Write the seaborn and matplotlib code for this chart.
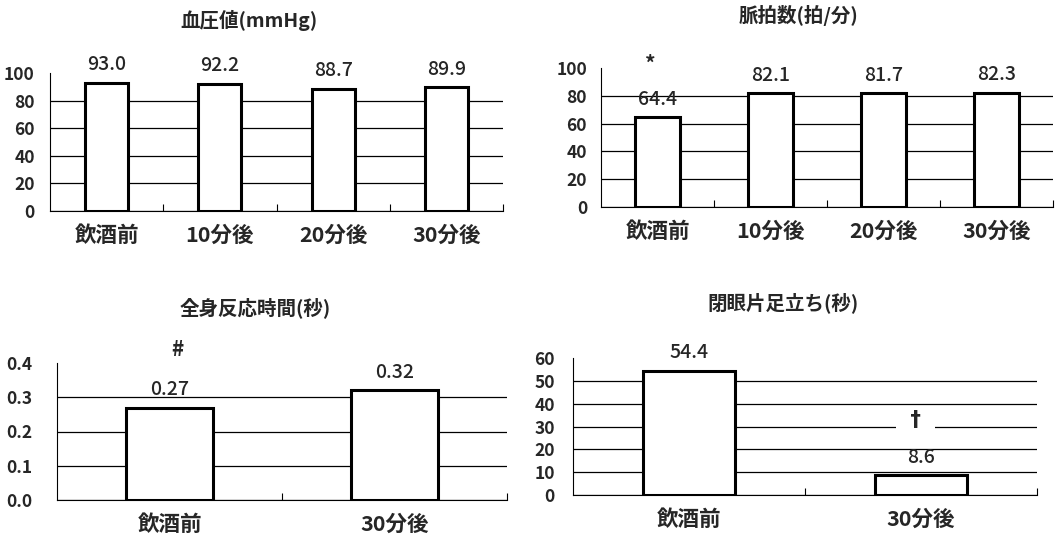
import numpy as np
import matplotlib
matplotlib.use("Agg")
import matplotlib.pyplot as plt
import seaborn as sb
from matplotlib.ticker import FixedLocator

# ---- données ----
cats_4 = ["飲酒前", "10分後", "20分後", "30分後"]
cats_2 = ["飲酒前", "30分後"]

pression = [93.0, 92.2, 88.7, 89.9]
pouls = [64.4, 82.1, 81.7, 82.3]
reaction = [0.27, 0.32]
equilibre = [54.4, 8.6]

titres = ["血圧値(mmHg)", "脈拍数(拍/分)", "全身反応時間(秒)", "閉眼片足立ち(秒)"]
fmt = ["{:.1f}", "{:.1f}", "{:.2f}", "{:.1f}"]

sb.set_theme(style="white")
plt.rcParams['font.family'] = ['Noto Sans CJK JP', 'DejaVu Sans']

fig = plt.figure(figsize=(10.55, 5.37), dpi=100)

W, H = 1055, 537


def axe_px(x0, x1, ytop, ybot):
    return fig.add_axes([x0 / W, 1 - ybot / H, (x1 - x0) / W, (ybot - ytop) / H])


def graphique(ax, cats, vals, ymax, pas, f, pad_y, largeur):
    sb.barplot(x=cats, y=vals, ax=ax, color="white", edgecolor="black",
               linewidth=2.2, width=largeur, saturation=1, zorder=3)
    ax.set_ylim(0, ymax)
    ax.set_xlim(-0.5, len(cats) - 0.5)
    ticks = np.round(np.arange(0, ymax + pas / 2, pas), 3)
    ax.set_yticks(ticks)
    ax.set_yticklabels([("{:.1f}".format(t) if pas < 1 else "{:d}".format(int(t))) for t in ticks])
    ax.grid(axis="y", color="black", linewidth=0.9)
    ax.get_ygridlines()[-1].set_visible(False)
    ax.set_axisbelow(True)
    for s in ["top", "right"]:
        ax.spines[s].set_visible(False)
    for s in ["left", "bottom"]:
        ax.spines[s].set_color("black")
        ax.spines[s].set_linewidth(0.8)
    ax.tick_params(axis="y", direction="in", length=4, width=0.8, color="black",
                   pad=pad_y, labelsize=12.5)
    ax.tick_params(axis="x", length=0, pad=10, labelsize=15.5)
    for lab in ax.get_xticklabels() + ax.get_yticklabels():
        lab.set_fontweight("bold")
    ax.xaxis.set_minor_locator(FixedLocator(np.arange(0.5, len(cats), 1.0)))
    ax.tick_params(axis="x", which="minor", direction="in", length=5, width=0.8,
                   color="black", bottom=True)
    ax.set_xlabel("")
    ax.set_ylabel("")
    for i, v in enumerate(vals):
        ax.annotate(f.format(v), (i, v), xytext=(0, 6), textcoords="offset points",
                    ha="center", va="bottom", fontsize=14, fontweight="medium", zorder=5)


ax1 = axe_px(50, 503, 73, 211)
graphique(ax1, cats_4, pression, 100, 20, fmt[0], 11, 0.38)

ax2 = axe_px(601, 1053, 68, 207)
graphique(ax2, cats_4, pouls, 100, 20, fmt[1], 10, 0.40)
ax2.annotate("*", (0, pouls[0]), xytext=(-5, 31), textcoords="offset points",
             ha="center", va="bottom", fontsize=15, fontweight="bold")

ax3 = axe_px(57, 507, 363, 500)
graphique(ax3, cats_2, reaction, 0.4, 0.1, fmt[2], 18, 0.39)
ax3.annotate("#", (0, reaction[0]), xytext=(6, 34), textcoords="offset points",
             ha="center", va="bottom", fontsize=15, fontweight="bold")

ax4 = axe_px(573, 1037, 358, 495)
graphique(ax4, cats_2, equilibre, 60, 10, fmt[3], 13, 0.40)
# le trait de grille s'interrompt autour de la croix
ax4.annotate("  †  ", (1, equilibre[1]), xytext=(-4, 40), textcoords="offset points",
             ha="center", va="center", fontsize=15, fontweight="bold",
             family=["DejaVu Sans"],
             bbox=dict(boxstyle="square,pad=0.0", fc="white", ec="none"))

# titres
for (x, y), t in zip([(249, 20), (798, 15), (255, 308), (783, 303)], titres):
    fig.text(x / W, 1 - y / H, t, ha="center", va="center", fontsize=14,
             fontweight="bold")

fig.savefig("out.png", dpi=100, facecolor="white")
